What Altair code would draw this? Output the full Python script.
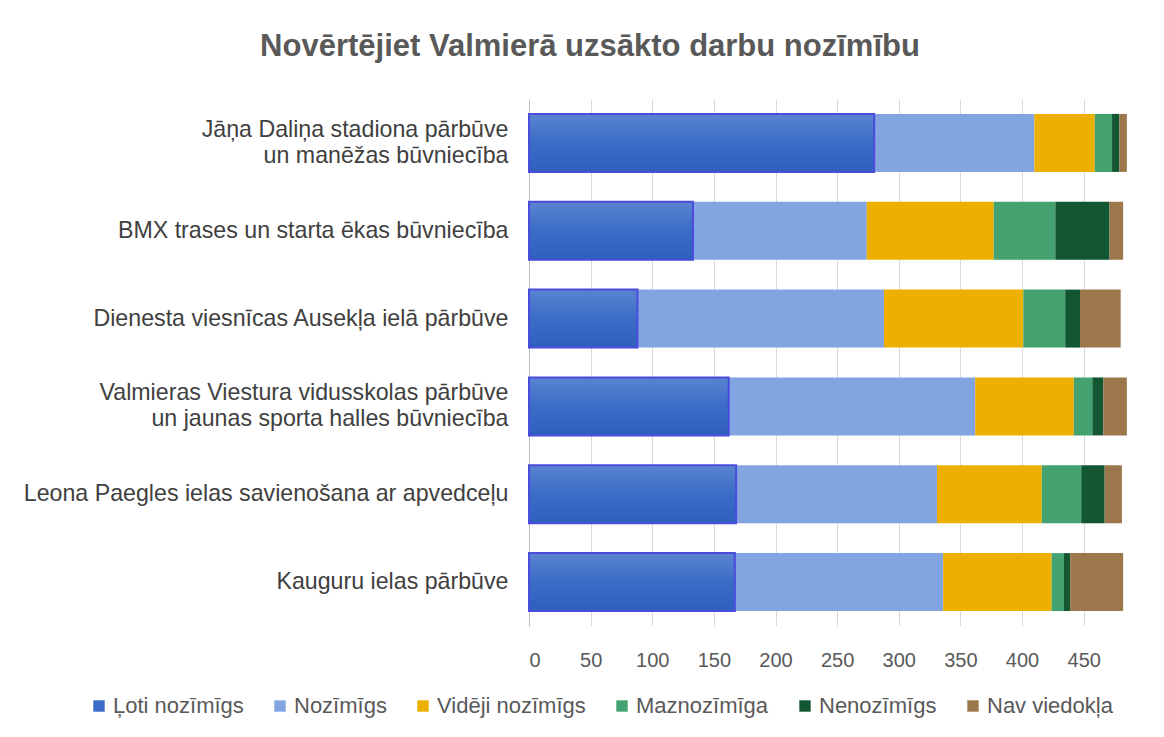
import altair as alt
import pandas as pd

categories = [
    "Jāņa Daliņa stadiona pārbūve|un manēžas būvniecība",
    "BMX trases un starta ēkas būvniecība",
    "Dienesta viesnīcas Ausekļa ielā pārbūve",
    "Valmieras Viestura vidusskolas pārbūve|un jaunas sporta halles būvniecība",
    "Leona Paegles ielas savienošana ar apvedceļu",
    "Kauguru ielas pārbūve",
]
series = ["Ļoti nozīmīgs", "Nozīmīgs", "Vidēji nozīmīgs", "Maznozīmīga", "Nenozīmīgs", "Nav viedokļa"]
colors = ["#3a6cc8", "#82a5e2", "#edb000", "#44a270", "#125632", "#9c774c"]

loti = [280, 133, 88, 162, 168, 167]
nozimigs = [130, 141, 200, 200, 163, 169]
videji = [49, 103, 113, 80, 85, 88]
maz = [14, 50, 34, 15, 32, 10]
neno = [6, 44, 12, 9, 19, 5]
nav = [6, 11, 33, 19, 14, 43]
x_ticks = [0, 50, 100, 150, 200, 250, 300, 350, 400, 450]

vals = [loti, nozimigs, videji, maz, neno, nav]
rows = []
for si, s in enumerate(series):
    for ci, c in enumerate(categories):
        rows.append({"cat": c, "series": s, "value": vals[si][ci], "ord": si})
df = pd.DataFrame(rows)

FONT = "Liberation Sans"

base = alt.Chart(df)

y_enc = alt.Y(
    "cat:N",
    sort=categories,
    title=None,
    scale=alt.Scale(paddingInner=0.34, paddingOuter=0.17),
    axis=alt.Axis(
        labelExpr="split(datum.label, '|')",
        labelFont=FONT,
        labelFontSize=23.2,
        labelColor="#404040",
        labelLineHeight=26,
        labelPadding=21,
        labelLimit=600,
        labelOffset={"condition": {"test": "indexof(datum.value, '|') >= 0", "value": -13}, "value": 0},
        ticks=False,
        domainColor="#bfbfbf",
        domainWidth=1,
        grid=False,
    ),
)

bars = base.mark_bar().encode(
    y=y_enc,
    x=alt.X(
        "value:Q",
        stack="zero",
        title=None,
        scale=alt.Scale(domain=[0, 490], nice=False),
        axis=alt.Axis(
            values=x_ticks,
            labelFont=FONT,
            labelFontSize=20,
            labelColor="#595959",
            labelPadding=24,
            ticks=False,
            domain=False,
            grid=True,
            gridColor="#d9d9d9",
            gridWidth=1,
        ),
    ),
    color=alt.Color(
        "series:N",
        sort=series,
        scale=alt.Scale(domain=series, range=colors),
        legend=alt.Legend(
            title=None,
            orient="none",
            direction="horizontal",
            legendX=-441,
            legendY=596,
            symbolType="square",
            symbolSize=130,
            symbolStrokeWidth=0,
            labelFont=FONT,
            labelFontSize=22,
            labelColor="#595959",
            labelOffset=3,
            columnPadding=25,
        ),
    ),
    order=alt.Order("ord:Q"),
)

grad = alt.LinearGradient(
    gradient="linear",
    x1=0, y1=0, x2=0, y2=1,
    stops=[
        alt.GradientStop(color="#5b84d0", offset=0),
        alt.GradientStop(color="#3a6cc8", offset=0.5),
        alt.GradientStop(color="#2e5fbc", offset=1),
    ],
)

overlay = base.transform_filter(alt.datum.ord == 0).mark_bar(
    fill=grad, stroke="#4b4bdc", strokeWidth=2
).encode(
    y=alt.Y("cat:N", sort=categories),
    x=alt.X("value:Q", stack=None),
)

chart = alt.layer(bars, overlay).properties(
    width=604,
    height=527,
    autosize=alt.AutoSizeParams(type="none"),
    padding={"left": 521, "top": 91, "right": 20, "bottom": 103},
    title=alt.TitleParams(
        "Novērtējiet Valmierā uzsākto darbu nozīmību",
        font=FONT,
        fontSize=31,
        fontWeight="bold",
        color="#595959",
        anchor="middle",
        dx=-241,
        offset=36,
    ),
).configure_view(stroke=None)

chart.save("out.html", embed_options={"renderer": "svg", "actions": False})
